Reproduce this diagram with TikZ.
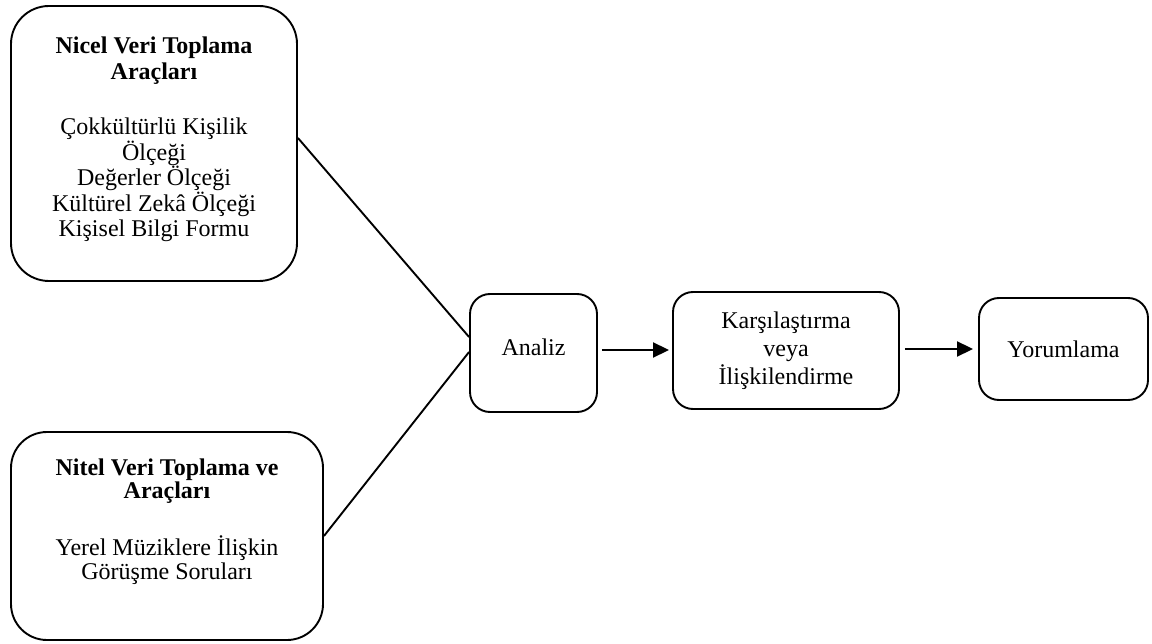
\documentclass[tikz,border=0pt]{standalone}
\usepackage{fontspec}
\setmainfont{Liberation Serif}
\usetikzlibrary{arrows.meta}
\begin{document}
\begin{tikzpicture}[x=1pt,y=-1pt,
  every node/.style={font=\fontsize{24}{27}\selectfont, inner sep=0pt},
  box/.style={draw, line width=1.9pt, rectangle, align=center},
  boxtext/.style={align=center},
  link/.style={line width=1.9pt},
  flow/.style={line width=1.9pt, -{Triangle[length=16pt,width=15pt]}}]
\useasboundingbox (0,0) rectangle (1152,644);

% source boxes with their texts
\node[box, rounded corners=38pt, minimum width=286pt, minimum height=275pt] (nicel) at (154,143.5) {};
\node[boxtext, font=\fontsize{24}{25.5}\selectfont] (niceltext) at ([yshift=4.1pt]nicel.center)
  {\textbf{Nicel Veri Toplama}\\ \textbf{Araçları}\\[30pt]
   Çokkültürlü Kişilik\\ Ölçeği\\ Değerler Ölçeği\\ Kültürel Zekâ Ölçeği\\ Kişisel Bilgi Formu};
\node[box, rounded corners=36pt, minimum width=312pt, minimum height=208pt] (nitel) at (167,536) {};
\node[boxtext, font=\fontsize{24}{23.5}\selectfont] (niteltext) at ([yshift=14.6pt]nitel.center)
  {\textbf{Nitel Veri Toplama ve}\\ \textbf{Araçları}\\[31.5pt]
   Yerel Müziklere İlişkin\\ Görüşme Soruları};

% process chain
\node[box, rounded corners=20pt, minimum width=127pt, minimum height=118pt, text depth=12pt] (analiz) at (533.5,353) {Analiz};
\node[box, rounded corners=20pt, minimum width=226pt, minimum height=117pt, font=\fontsize{24}{28}\selectfont] (karsi) at (786,350.5)
  {Karşılaştırma\\ veya\\ İlişkilendirme};
\node[box, rounded corners=20pt, minimum width=169pt, minimum height=102pt] (yorum) at (1063.5,349) {Yorumlama};

% connectors
\draw[link] ([yshift=5.5pt]nicel.east) -- ([yshift=16pt]analiz.west);
\draw[link] (nitel.east) -- ([yshift=1pt]analiz.west);
\draw[flow, shorten <=4pt, shorten >=3pt] ([yshift=3pt]analiz.east) -- ([yshift=0.5pt]karsi.west);
\draw[flow, shorten <=5pt, shorten >=5pt] ([yshift=1.5pt]karsi.east) -- (yorum.west);
\end{tikzpicture}
\end{document}
